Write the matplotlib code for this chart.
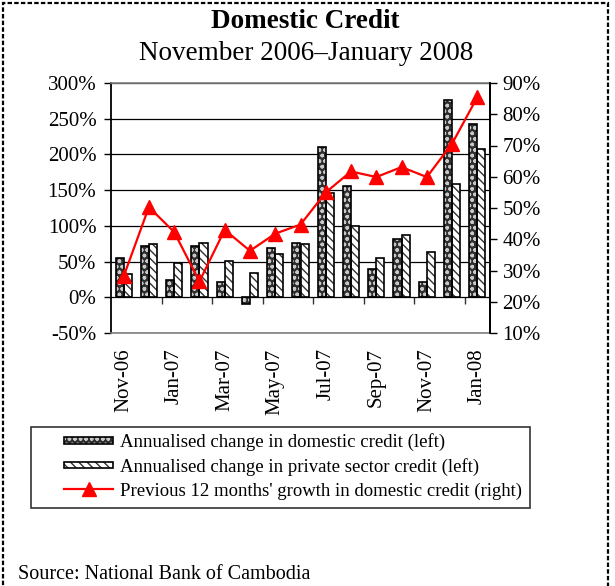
import matplotlib
matplotlib.use("Agg")
import matplotlib.pyplot as plt
from matplotlib.patches import Rectangle, Patch
from matplotlib.lines import Line2D
from matplotlib.legend_handler import HandlerPatch, HandlerTuple
from matplotlib.ticker import FuncFormatter, MultipleLocator

plt.rcParams['font.family'] = ['Liberation Serif', 'DejaVu Serif']
plt.rcParams['hatch.linewidth'] = 1.0

months = ["Nov-06", "Dec-06", "Jan-07", "Feb-07", "Mar-07", "Apr-07", "May-07", "Jun-07",
          "Jul-07", "Aug-07", "Sep-07", "Oct-07", "Nov-07", "Dec-07", "Jan-08"]
domestic = [55.6, 72.4, 24.8, 72.4, 22.0, -9.8, 69.6, 76.6, 211.0, 156.0, 39.7, 81.8, 22.0, 276.6, 243.0]
private = [32.2, 74.8, 47.7, 76.6, 51.0, 34.6, 61.2, 74.8, 145.8, 100.5, 55.6, 87.4, 63.6, 158.9, 208.0]
growth12 = [28.1, 50.3, 42.3, 26.5, 43.0, 36.3, 41.8, 44.7, 55.0, 61.7, 59.9, 63.1, 59.9, 70.6, 85.5]

labels_dom = "Annualised change in domestic credit (left)"
labels_priv = "Annualised change in private sector credit (left)"
labels_growth = "Previous 12 months' growth in domestic credit (right)"

W, H = 615, 586
fig = plt.figure(figsize=(W / 100, H / 100), dpi=100)

def fx(px):
    return px / W

def fy(py):
    return 1 - py / H

ax = fig.add_axes([fx(111), fy(333), fx(490) - fx(111), fy(83) - fy(333)])
x = list(range(len(months)))
bw = 0.32
xd = [i - bw / 2 for i in x]
xp = [i + bw / 2 for i in x]

dom_face = '#2e2e2e'
# domestic bars: dark with light dots
ax.bar(xd, domestic, width=bw, color=dom_face, edgecolor='#c8c8c8', hatch='ooo', linewidth=0, zorder=3)
ax.bar(xd, domestic, width=bw, facecolor='none', edgecolor='black', linewidth=1.2, zorder=4)
# private bars: white with diagonal stripes
ax.bar(xp, private, width=bw, color='white', edgecolor='#333333', hatch='\\\\\\\\', linewidth=0, zorder=3)
ax.bar(xp, private, width=bw, facecolor='none', edgecolor='black', linewidth=1.2, zorder=4)

ax.set_xlim(-0.5, len(months) - 0.5)
ax.set_ylim(-50, 300)
ax.yaxis.set_major_locator(MultipleLocator(50))
ax.yaxis.set_major_formatter(FuncFormatter(lambda v, p: f"{int(round(v))}%"))
ax.yaxis.grid(True, color='black', linewidth=0.9, zorder=0)
ax.set_axisbelow(True)
ax.tick_params(axis='y', direction='out', length=5, width=1, pad=5.5, labelsize=15)
ax.set_xticks(x[::2])
ax.set_xticklabels(months[::2], rotation=90, fontsize=15, va='top')
ax.tick_params(axis='x', length=0, pad=11)
for s in ['top', 'bottom']:
    ax.spines[s].set_color('#7f7f7f')
    ax.spines[s].set_linewidth(1.2)
ax.spines['left'].set_linewidth(1.3)
ax.spines['right'].set_linewidth(1.3)

# category-axis tick marks at 0%
zero_frac = (0 - (-50)) / 350
sec = ax.secondary_xaxis(zero_frac)
sec.set_xticks([i + 0.5 for i in x[1:-1:2]])
sec.set_xticklabels([])
sec.tick_params(axis='x', direction='out', length=5, width=1, color='#333333')
sec.spines['bottom'].set_visible(False)

ax2 = ax.twinx()
ax2.plot(x, growth12, color='red', linewidth=1.6, marker='^', markersize=10,
         markerfacecolor='red', markeredgecolor='red', zorder=5)
ax2.set_ylim(10, 90)
ax2.yaxis.set_major_locator(MultipleLocator(10))
ax2.yaxis.set_major_formatter(FuncFormatter(lambda v, p: f"{int(round(v))}%"))
ax2.tick_params(axis='y', direction='out', length=5, width=1, pad=4, labelsize=15)
for s in ['top', 'bottom', 'left']:
    ax2.spines[s].set_visible(False)
ax2.spines['right'].set_linewidth(1.3)

# titles
fig.text(fx(305), fy(21), "Domestic Credit", ha='center', va='center', fontsize=19.5, fontweight='bold')
fig.text(fx(306), fy(53), "November 2006\u2013January 2008", ha='center', va='center', fontsize=19.5)

# legend
def thin_rect(legend, orig_handle, xdescent, ydescent, width, height, fontsize):
    return Rectangle((-xdescent, -ydescent + height * 0.25), width, height * 0.5)

hp = HandlerPatch(patch_func=thin_rect)
h_dom = (Patch(facecolor=dom_face, edgecolor='#c8c8c8', hatch='ooo', linewidth=0),
         Patch(facecolor='none', edgecolor='black', linewidth=1.2))
h_priv = (Patch(facecolor='white', edgecolor='#333333', hatch='\\\\\\\\', linewidth=0),
          Patch(facecolor='none', edgecolor='black', linewidth=1.2))
h_line = Line2D([], [], color='red', linewidth=1.6, marker='^', markersize=10,
                markerfacecolor='red', markeredgecolor='red')
leg = fig.legend([h_dom, h_priv, h_line], [labels_dom, labels_priv, labels_growth],
                 handler_map={Patch: hp, tuple: HandlerTuple(ndivide=1, pad=0)},
                 loc='upper left', bbox_to_anchor=(fx(55), fy(424)), frameon=False,
                 fontsize=13.5, borderpad=0, handlelength=2.6, handletextpad=0.35,
                 labelspacing=0.35)
fig.add_artist(Rectangle((fx(31), fy(508)), fx(530) - fx(31), fy(427) - fy(508),
                         transform=fig.transFigure, fill=False, edgecolor='#333333', linewidth=1.2))

# source
fig.text(fx(18), fy(579), "Source: National Bank of Cambodia", ha='left', va='baseline', fontsize=14.5)

# outer dashed frame
fig.add_artist(Rectangle((fx(3), -0.05), fx(608) - fx(3), fy(3) + 0.05,
                         transform=fig.transFigure, fill=False, edgecolor='black',
                         linewidth=1.6, linestyle=(0, (2, 1))))

fig.savefig("out.png", dpi=100)
